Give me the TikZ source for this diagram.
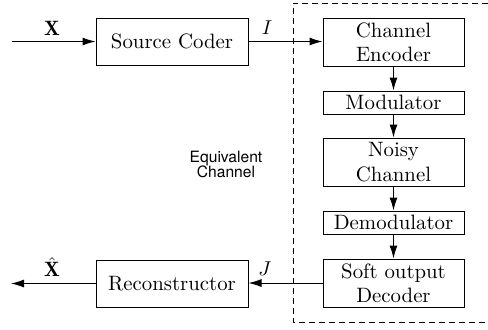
\documentclass[tikz,border=0pt]{standalone}
\usepackage{fontspec}
\newfontfamily\labelsans{TeX Gyre Heros}
\usetikzlibrary{arrows.meta}
\begin{document}
\begin{tikzpicture}[x=0.5pt,y=-0.5pt,
  blk/.style={draw,line width=0.5pt,align=center,inner sep=0pt,font=\fontsize{10.4}{12.2}\selectfont},
  wide/.style={blk,minimum width=76pt,minimum height=23.5pt},
  tall/.style={blk,minimum width=70.5pt,minimum height=24pt},
  thin/.style={blk,minimum width=70.5pt,minimum height=11.5pt},
  conn/.style={line width=0.5pt,-{Latex[length=6.5pt,width=4pt]}},
  lbl/.style={font=\fontsize{10.4}{12}\selectfont,inner sep=0pt}]
\useasboundingbox (0,0) rectangle (488,329);
\draw[line width=0.5pt,dash pattern=on 3pt off 2pt] (488,3) -- (293,3) -- (293,322) -- (488,322);
\node[wide] (src) at (172,41.5) {Source Coder};
\node[wide] (rec) at (172,283.5) {Reconstructor};
\node[tall] (enc) at (393.5,42) {Channel\\Encoder};
\node[thin] (mod) at (393.5,102.5) {Modulator};
\node[tall] (noisy) at (393.5,162) {Noisy\\Channel};
\node[thin] (demod) at (393.5,222.5) {Demodulator};
\node[tall] (dec) at (393.5,283) {Soft output\\Decoder};
\coordinate (in) at (12,41.5);
\coordinate (out) at (11,283.5);
\draw[conn] (in) -- (src);
\draw[conn] (src) -- (src.east -| enc.west);
\draw[conn] (enc) -- (mod);
\draw[conn] (mod) -- (noisy);
\draw[conn] (noisy) -- (demod);
\draw[conn] (demod) -- (dec);
\draw[conn] (dec.west) -- (dec.west -| rec.east);
\draw[conn] (rec) -- (out);
\node[lbl] (xl) at (52,28) {$\mathbf{X}$};
\node[lbl] (il) at (267,28) {$I$};
\node[lbl] (jl) at (265,269) {$J$};
\node[lbl] (xhl) at (52,267) {$\hat{\mathbf{X}}$};
\node[align=center,inner sep=0pt,font=\labelsans\fontsize{7.8}{7.6}\selectfont] (eq) at (226,164.5) {Equivalent\\Channel};
\end{tikzpicture}
\end{document}
